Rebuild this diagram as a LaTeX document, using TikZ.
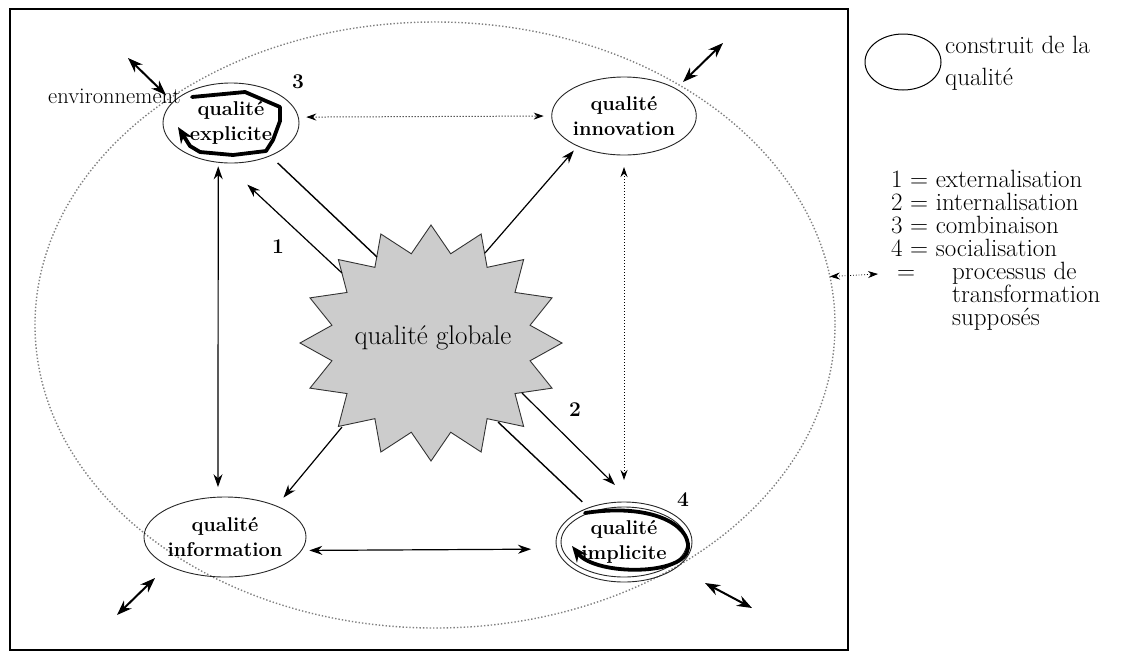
\documentclass[tikz,border=0pt]{standalone}
\usetikzlibrary{arrows.meta,shapes.geometric}
\begin{document}
\begin{tikzpicture}[x=1pt,y=-1pt,
  qnode/.style={ellipse, draw=black!85, line width=0.9pt, inner sep=0pt, outer sep=0pt,
    minimum width=136pt, minimum height=80pt, align=center,
    font=\fontsize{20}{25}\selectfont\bfseries},
  numlbl/.style={font=\fontsize{21}{24}\selectfont\bfseries, inner sep=0pt},
  legend/.style={font=\fontsize{25}{26}\selectfont, inner sep=0pt, anchor=base west},
  tipA/.tip={Stealth[length=13pt,width=9pt]},
  arr/.style={-tipA, line width=1.2pt},
  darr/.style={tipA-tipA, line width=1.2pt},
  link/.style={line width=1.4pt},
  dotarr/.style={{Stealth[length=10pt,width=7pt]}-{Stealth[length=10pt,width=7pt]}, dotted, line width=1pt},
  envarr/.style={{Stealth[length=15pt,width=11pt]}-{Stealth[length=15pt,width=11pt]}, line width=2pt},
  loopline/.style={line width=3.8pt, line join=round, line cap=round, -{Stealth[length=16pt,width=13pt]}}
]
\useasboundingbox (0,0) rectangle (1123,654);

% outer frame
\draw[line width=1.5pt] (10,9) rectangle (848,650);

% environment boundary
\node[ellipse, draw=black!50, dotted, line width=1.4pt, inner sep=0pt, outer sep=0pt,
      minimum width=800pt, minimum height=606pt] (env) at (435,325) {};

% central star: qualite globale
\draw[fill=black!20, draw=black!80, line width=0.9pt] (431,225)
  \foreach \i in {0,...,15} {
    -- ({431+101*sin(\i*22.5+11.25)},{343-91*cos(\i*22.5+11.25)})
    -- ({431+131*sin(\i*22.5+22.5)},{343-118*cos(\i*22.5+22.5)})
  } -- cycle;
\node[font=\fontsize{27}{30}\selectfont] (g) at (433,338) {qualité globale};

% attachment points on the star outline
\coordinate (g-a) at (342,273);
\coordinate (g-b) at (377,257);
\coordinate (g-c) at (485,253);
\coordinate (g-d) at (522,393);
\coordinate (g-e) at (498,422);
\coordinate (g-f) at (342,427);

% the four kinds of quality
\node[qnode] (explicit) at (231,123) {qualité\\explicite};
\node[qnode, minimum width=138pt, minimum height=78pt] (innovation) at (624,116) {qualité\\innovation};
\node[qnode] (information) at (225,537) {qualité\\information};
\node[qnode] (implicit) at (624,542) {qualité\\implicite};
\draw[draw=black!85, line width=0.9pt] (implicit) ellipse [x radius=63pt, y radius=35pt];

% combination loop
\draw[loopline] (192,97) -- (245,92) -- (280,107) -- (280,121) -- (273,140) -- (266,151)
  -- (233,155) -- (200,152) -- (190,146) -- (178,127);
% socialisation loop
\draw[loopline] (585,513) .. controls (650,503) and (690,524) .. (688,548)
  .. controls (686,576) and (596,576) .. (572,546);

\node[font=\fontsize{22.5}{24}\selectfont, anchor=base west, inner sep=0pt] (envtxt) at (48,103) {environnement};

% numbers of the transformations
\node[numlbl] (n3) at (298,82) {3};
\node[numlbl] (n1) at (278,247) {1};
\node[numlbl] (n2) at (575,410) {2};
\node[numlbl] (n4) at (683,500) {4};

% connectors between the kinds of quality
\draw[darr, shorten <=4pt, shorten >=10pt] (explicit.252) -- (information.100);
\draw[darr, shorten <=8pt, shorten >=26pt] (information.-10) -- (implicit.186);
\draw[dotarr, shorten <=8pt, shorten >=8pt] (explicit.5) -- (innovation.180);
\draw[dotarr, shorten <=12pt, shorten >=22pt] (innovation.270) -- (implicit.90);

% connectors from the star
\draw[arr, shorten >=32pt] (g-a) -- (explicit.260);
\draw[link, shorten <=10.5pt] (explicit.-40) -- (g-b);
\draw[arr, shorten >=6pt] (g-c) -- (innovation.213);
\draw[arr, shorten >=24.6pt] (g-d) -- (implicit.78);
\draw[link, shorten >=8.7pt] (g-e) -- (implicit.136);
\draw[arr, shorten >=11pt] (g-f) -- (information.31);

% exchanges with the environment
\coordinate (e1a) at (128,58);  \coordinate (e1b) at (166,95);
\coordinate (e2a) at (683,82);  \coordinate (e2b) at (723,43);
\coordinate (e3a) at (117,615); \coordinate (e3b) at (155,578);
\coordinate (e4a) at (705,583); \coordinate (e4b) at (752,608);
\draw[envarr] (e1a) -- (e1b);
\draw[envarr] (e2a) -- (e2b);
\draw[envarr] (e3a) -- (e3b);
\draw[envarr] (e4a) -- (e4b);

% legend
\node[ellipse, draw, line width=1pt, inner sep=0pt, minimum width=76pt, minimum height=56pt] (key) at (903,62) {};
\node[legend] (key1) at (945,53) {construit de la};
\node[legend] (key2) at (945,85) {qualité};
\node[legend] (l1) at (891,187) {1 = externalisation};
\node[legend] (l2) at (891,210) {2 = internalisation};
\node[legend] (l3) at (891,233) {3 = combinaison};
\node[legend] (l4) at (891,256) {4 = socialisation};
\node[legend] (l5) at (897,279) {=};
\node[legend] (l6) at (952,279) {processus de};
\node[legend] (l7) at (952,302) {transformation};
\node[legend] (l8) at (952,325) {supposés};
\coordinate (kend) at (878,274);
\draw[dotarr, line width=0.8pt] (env.7.5) -- (kend);
\end{tikzpicture}
\end{document}
